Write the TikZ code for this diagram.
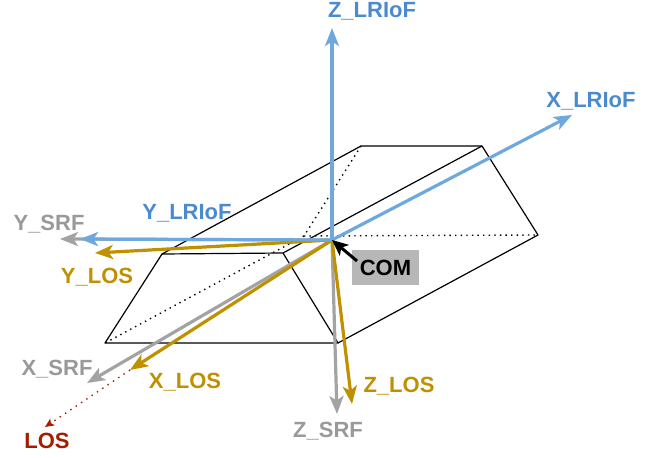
\documentclass[tikz,border=0pt]{standalone}
\usepackage{fontspec}
\setmainfont{Liberation Sans}
\usetikzlibrary{arrows.meta}
\definecolor{axblue}{HTML}{6FA8DC}
\definecolor{txblue}{HTML}{4A8BD0}
\definecolor{axgray}{HTML}{A3A3A3}
\definecolor{txgray}{HTML}{999999}
\definecolor{axgold}{HTML}{BF9000}
\definecolor{axred}{HTML}{A61C00}
\definecolor{comfill}{HTML}{B7B7B7}
\tikzset{
  edge/.style={draw=black, line width=1.2pt, line join=round},
  hidden/.style={draw=black, line width=1.4pt, dash pattern=on 1.4pt off 4.2pt},
  axis/.style={line width=3.2pt, -{Stealth[length=18pt, width=14pt, inset=4.5pt]}},
  lab/.style={font=\bfseries\fontsize{22}{25}\selectfont, anchor=base, inner sep=0pt},
  bluelab/.style={lab, text=txblue},
  graylab/.style={lab, text=txgray},
  goldlab/.style={lab, text=axgold},
  redlab/.style={lab, text=axred},
}
\begin{document}
\begin{tikzpicture}[x=1pt, y=-1pt]
\useasboundingbox (0,0) rectangle (660,457);
% prism vertices
\coordinate (F1) at (162,254);
\coordinate (F2) at (283,253);
\coordinate (F3) at (338,343);
\coordinate (F4) at (105,343);
\coordinate (B1) at (361,146);
\coordinate (B2) at (482,146);
\coordinate (B3) at (538,235);
\coordinate (B4) at (304,236);
% hidden edges
\draw[hidden] (B1) -- (B4) -- (B3);
\draw[hidden] (B4) -- (F4);
% visible edges
\draw[edge] (F1) -- (F2) -- (F3) -- (F4) -- cycle;
\draw[edge] (F1) -- (B1) -- (B2) -- (B3) -- (F3);
\draw[edge] (F2) -- (B2);
% origin and axis ends
\coordinate (o) at (332,240);
\coordinate (zl) at (332,28);
\coordinate (xl) at (572,115);
\coordinate (yl) at (80,239);
\coordinate (ys) at (60,239);
\coordinate (xs) at (87,383);
\coordinate (zs) at (337,414);
\coordinate (yo) at (95,253);
\coordinate (xo) at (130,370);
\coordinate (zo) at (352,404);
\coordinate (los) at (45,427);
% gray SRF axes
\draw[axis, axgray] (o) -- (ys);
\draw[axis, axgray] (o) -- (xs);
\draw[axis, axgray] (o) -- (zs);
% gold LOS axes
\draw[axis, axgold] (o) -- (yo);
\draw[axis, axgold] (o) -- (xo);
\draw[axis, axgold] (o) -- (zo);
% LOS line
\draw[axred, line width=1.4pt, dash pattern=on 1.4pt off 5pt, -{Stealth[length=9pt, width=8pt, inset=2pt, sep=0pt]}] (xo) -- (los);
% blue LRIoF axes
\draw[axis, axblue] (o) -- (zl);
\draw[axis, axblue] (o) -- (xl);
\draw[axis, axblue] (o) -- (yl);
% labels
\node[bluelab] (lzl) at (372,17.5) {Z\_LRIoF};
\node[bluelab] (lxl) at (591,108) {X\_LRIoF};
\node[bluelab] (lyl) at (187,219) {Y\_LRIoF};
\node[graylab] (lys) at (49,230) {Y\_SRF};
\node[graylab] (lxs) at (57,375) {X\_SRF};
\node[graylab] (lzs) at (328,437) {Z\_SRF};
\node[goldlab] (lyo) at (97,283) {Y\_LOS};
\node[goldlab] (lxo) at (185,388) {X\_LOS};
\node[goldlab] (lzo) at (399,392) {Z\_LOS};
\node[redlab] (llos) at (47,448) {LOS};
% COM
\node[fill=comfill, minimum width=67pt, minimum height=35pt, inner sep=0pt,
      font=\bfseries\fontsize{22}{25}\selectfont] (com) at (385.5,267.5) {COM};
\coordinate (comtail) at (357,261);
\draw[black, line width=3pt, -{Stealth[length=16pt, width=14pt, inset=4pt]}] (comtail) -- (o);
\end{tikzpicture}
\end{document}
